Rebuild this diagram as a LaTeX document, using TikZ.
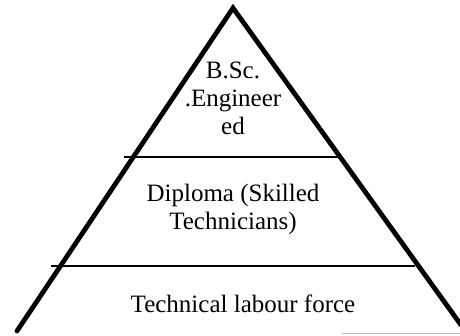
\documentclass[tikz,border=0pt]{standalone}
\usepackage{fontspec}
\setmainfont{Liberation Serif}
\begin{document}
\begin{tikzpicture}[x=1pt,y=-1pt,
  side/.style={line width=4.8pt,line cap=round},
  tier/.style={line width=1.8pt},
  lbl/.style={align=center,font=\fontsize{25}{28}\selectfont,inner sep=0pt}]
\useasboundingbox (0,0) rectangle (460,336);
\coordinate (apex) at (233,8);
\coordinate (bl) at (17,331);
\coordinate (br) at (461,325);
\draw[side] (bl) -- (apex) -- (br);
\coordinate (u1) at (124,157);
\coordinate (u2) at (340,157);
\coordinate (l1) at (51,266);
\coordinate (l2) at (415,266);
\draw[tier] (u1) -- (u2);
\draw[tier] (l1) -- (l2);
\coordinate (g1) at (342,333);
\coordinate (g2) at (460,333);
\draw[gray!50,line width=1pt] (g1) -- (g2);
\node[lbl] (top) at (233,98) {B.Sc.\\.Engineer\\ed};
\node[lbl] (mid) at (233,209) {Diploma (Skilled\\Technicians)};
\node[lbl] (bot) at (243,304) {Technical labour force};
\end{tikzpicture}
\end{document}
